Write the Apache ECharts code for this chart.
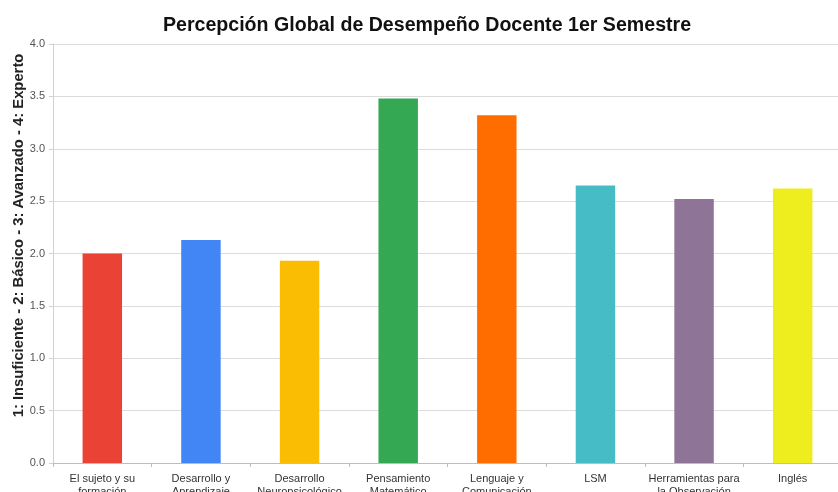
<!DOCTYPE html>
<html>
<head>
<meta charset="utf-8">
<script src="https://cdn.jsdelivr.net/npm/echarts@6/dist/echarts.min.js"></script>
<style>
  html, body { margin: 0; padding: 0; background: #fff; overflow: hidden; }
  #chart { width: 838px; height: 492px; }
</style>
</head>
<body>
<div id="chart"></div>
<script>
// Course areas (x-axis categories)
const categories = [
  'El sujeto y su\nformación',
  'Desarrollo y\nAprendizaje',
  'Desarrollo\nNeuropsicológico',
  'Pensamiento\nMatemático',
  'Lenguaje y\nComunicación',
  'LSM',
  'Herramientas para\nla Observación',
  'Inglés'
];

// Average perception score per area (scale 1–4)
const scores = [2.00, 2.13, 1.93, 3.48, 3.32, 2.65, 2.52, 2.62];

// One colour per area
const barColors = ['#EA4335', '#4285F4', '#FBBC04', '#34A853', '#FF6D01', '#46BDC6', '#8E7497', '#EEEE1E'];

// Value-axis ticks
const yTicks = [0, 0.5, 1, 1.5, 2, 2.5, 3, 3.5, 4];

const chart = echarts.init(document.getElementById('chart'), null, { renderer: 'canvas', width: 838, height: 492 });

chart.setOption({
  animation: false,
  backgroundColor: '#ffffff',
  title: {
    text: 'Percepción Global de Desempeño Docente 1er Semestre',
    left: 422,
    textAlign: 'center',
    top: 11,
    textStyle: {
      fontFamily: 'Liberation Sans, Arial, sans-serif',
      fontSize: 19.6,
      fontWeight: 'bold',
      color: '#111'
    }
  },
  grid: {
    left: 53,
    top: 44,
    width: 789,
    height: 419,
    containLabel: false,
    outerBoundsMode: 'none'
  },
  xAxis: {
    type: 'category',
    data: categories,
    axisLine: { lineStyle: { color: '#bdbdbd', width: 1 } },
    axisTick: { show: true, length: 4, alignWithLabel: false, lineStyle: { color: '#bdbdbd' } },
    axisLabel: {
      interval: 0,
      margin: 9,
      fontFamily: 'Liberation Sans, Arial, sans-serif',
      fontSize: 11,
      lineHeight: 13,
      color: '#333'
    }
  },
  yAxis: {
    type: 'value',
    min: yTicks[0],
    max: yTicks[yTicks.length - 1],
    interval: 0.5,
    name: '1: Insuficiente - 2: Básico - 3: Avanzado - 4: Experto',
    nameLocation: 'middle',
    nameGap: 27,
    nameMoveOverlap: false,
    nameRotate: 90,
    nameTextStyle: {
      fontFamily: 'Liberation Sans, Arial, sans-serif',
      fontSize: 14.8,
      fontWeight: 'bold',
      color: '#222',
      padding: [0, 0, 0, 36]
    },
    axisLine: { show: true, lineStyle: { color: '#d0d0d0', width: 1 } },
    axisTick: { show: true, length: 4, lineStyle: { color: '#d0d0d0' } },
    axisLabel: {
      margin: 8,
      fontFamily: 'Liberation Sans, Arial, sans-serif',
      fontSize: 11,
      color: '#555',
      formatter: v => v.toFixed(1)
    },
    splitLine: { show: true, lineStyle: { color: '#dcdcdc', width: 1 } }
  },
  series: [{
    type: 'bar',
    data: scores.map((v, i) => ({ value: v, itemStyle: { color: barColors[i] } })),
    barWidth: '40%'
  }]
});
</script>
</body>
</html>
